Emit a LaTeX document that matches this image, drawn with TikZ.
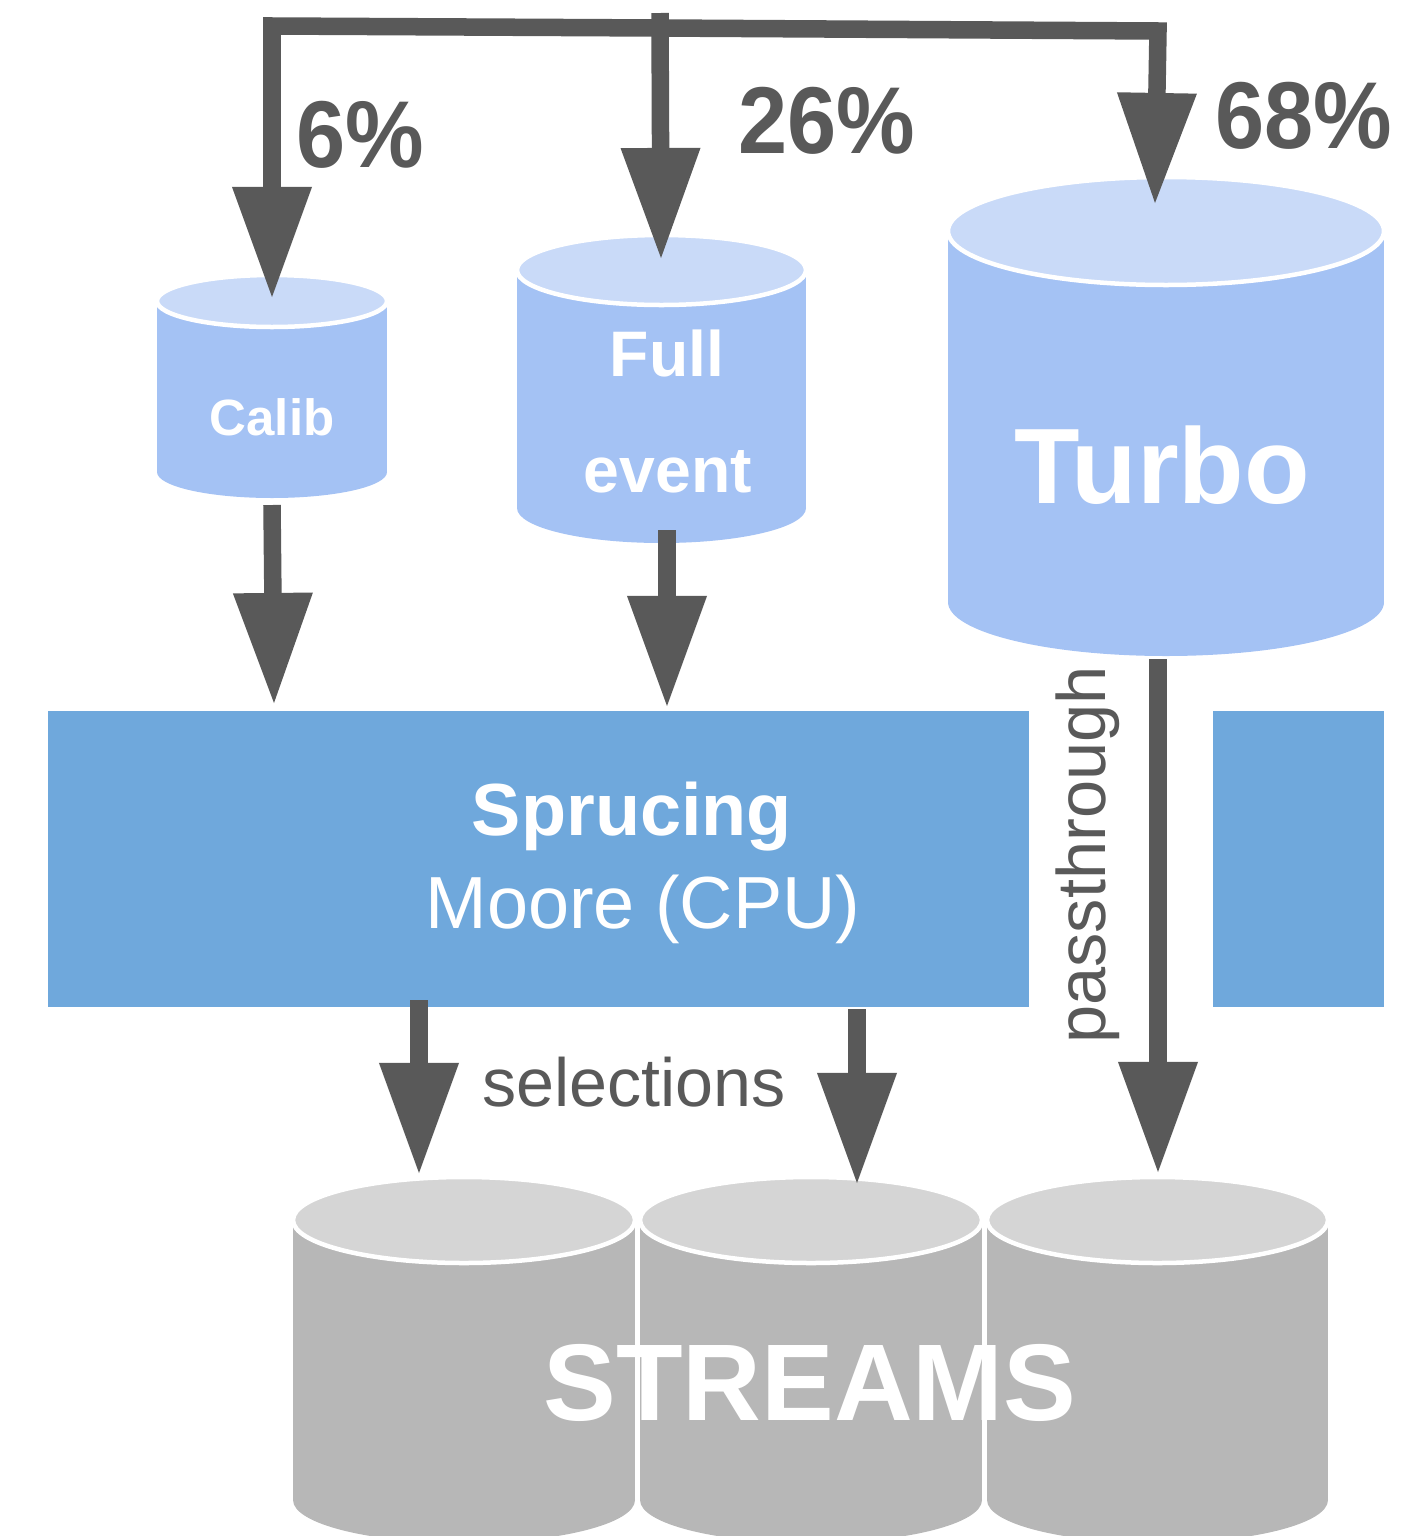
\documentclass[tikz,border=0pt]{standalone}
\usepackage{fontspec}
\setmainfont{Liberation Sans}
\usetikzlibrary{arrows.meta}

\definecolor{ink}{HTML}{595959}
\definecolor{lidblue}{HTML}{C9DAF8}
\definecolor{bodyblue}{HTML}{A4C2F4}
\definecolor{boxblue}{HTML}{6FA8DC}
\definecolor{lidgray}{HTML}{D5D5D5}
\definecolor{bodygray}{HTML}{B7B7B7}

% storage drum: left x, right x, lid centre y, base centre y, ellipse half height, body colour, lid colour
\newcommand\drum[7]{%
  \fill[#6] (#1,#3) rectangle (#2,#4);
  \fill[#6] ({(#1+#2)/2},#4) ellipse [x radius={(#2-#1)/2}, y radius=#5];
  \filldraw[fill=#7, draw=white, line width=0.45mm] ({(#1+#2)/2},#3) ellipse [x radius={(#2-#1)/2}, y radius=#5];
}

\tikzset{
  flow/.style={draw=ink, line width=1.75mm, line join=miter,
    -{Triangle[length=11mm, width=8mm, line width=0pt]}},
  lbl/.style={inner sep=0pt, anchor=base},
  pct/.style={lbl, text=ink, font=\fontsize{27}{27}\selectfont\bfseries, xscale=0.93},
  onblue/.style={lbl, text=white},
  panel/.style={fill=boxblue, inner sep=0pt, anchor=north west},
}

\begin{document}
\begin{tikzpicture}[x=0.01cm, y=-0.01cm]
\useasboundingbox (0,0) rectangle (1419,1536);
\clip (0,0) rectangle (1419,1536);

% storage drums
\drum{157}{387}{301}{472}{26}{bodyblue}{lidblue}
\drum{517}{806}{270}{508}{35}{bodyblue}{lidblue}
\drum{948}{1384}{231}{602}{54}{bodyblue}{lidblue}
\drum{293}{635}{1220}{1500}{43}{bodygray}{lidgray}
\drum{640}{982}{1220}{1500}{43}{bodygray}{lidgray}
\drum{987}{1328}{1220}{1500}{43}{bodygray}{lidgray}

% processing panels
\node[panel, minimum width=9.81cm, minimum height=2.96cm] (spruce) at (47,710) {};
\node[panel, minimum width=1.71cm, minimum height=2.96cm] (spruce-tail) at (1212,710) {};

% labels
\node[pct] (p6) at (360,167) {6\%};
\node[pct] (p26) at (827,153) {26\%};
\node[pct] (p68) at (1304,148) {68\%};

\node[onblue, font=\fontsize{14.5}{14.5}\selectfont\bfseries] (calib) at (272,435) {Calib};
\node[onblue, font=\fontsize{18.3}{18.3}\selectfont\bfseries] (full) at (667,376) {Full};
\node[onblue, font=\fontsize{18.3}{18.3}\selectfont\bfseries] (event) at (668,492) {event};
\node[onblue, font=\fontsize{30.5}{30.5}\selectfont\bfseries] (turbo) at (1162,503) {Turbo};

\node[onblue, font=\fontsize{21}{21}\selectfont\bfseries] (sprucing) at (632,835) {Sprucing};
\node[onblue, font=\fontsize{21}{21}\selectfont] (moore) at (643,928) {Moore (CPU)};

\node[lbl, text=ink, font=\fontsize{19.4}{19.4}\selectfont] (sel) at (634,1106) {selections};
\node[lbl, text=ink, font=\fontsize{19.5}{19.5}\selectfont, rotate=90] (pass) at (1105,855) {passthrough};

\node[onblue, font=\fontsize{31}{31}\selectfont\bfseries] (streams) at (810,1420) {STREAMS};

% connector end points
\coordinate (feed) at (660,13);
\coordinate (jl) at (272,26);
\coordinate (jm) at (660,28);
\coordinate (jr) at (1158,31);
\coordinate (calib-in) at (272,297);
\coordinate (full-in) at (661,258);
\coordinate (turbo-in) at (1155,203);
\coordinate (calib-out) at (272,505);
\coordinate (calib-to) at (274,703);
\coordinate (full-out) at (667,530);
\coordinate (full-to) at (667,706);
\coordinate (turbo-out) at (1158,659);
\coordinate (turbo-to) at (1158,1172);
\coordinate (sel-a) at (419,1000);
\coordinate (sel-a-to) at (419,1173);
\coordinate (sel-b) at (857,1009);
\coordinate (sel-b-to) at (857,1183);

% connectors
\draw[flow] (jm) -- (jl) -- (calib-in);
\draw[flow] (jm) -- (jr) -- (turbo-in);
\draw[flow] (feed) -- (full-in);
\draw[flow] (calib-out) -- (calib-to);
\draw[flow] (full-out) -- (full-to);
\draw[flow] (turbo-out) -- (turbo-to);
\draw[flow] (sel-a) -- (sel-a-to);
\draw[flow] (sel-b) -- (sel-b-to);
\end{tikzpicture}
\end{document}
